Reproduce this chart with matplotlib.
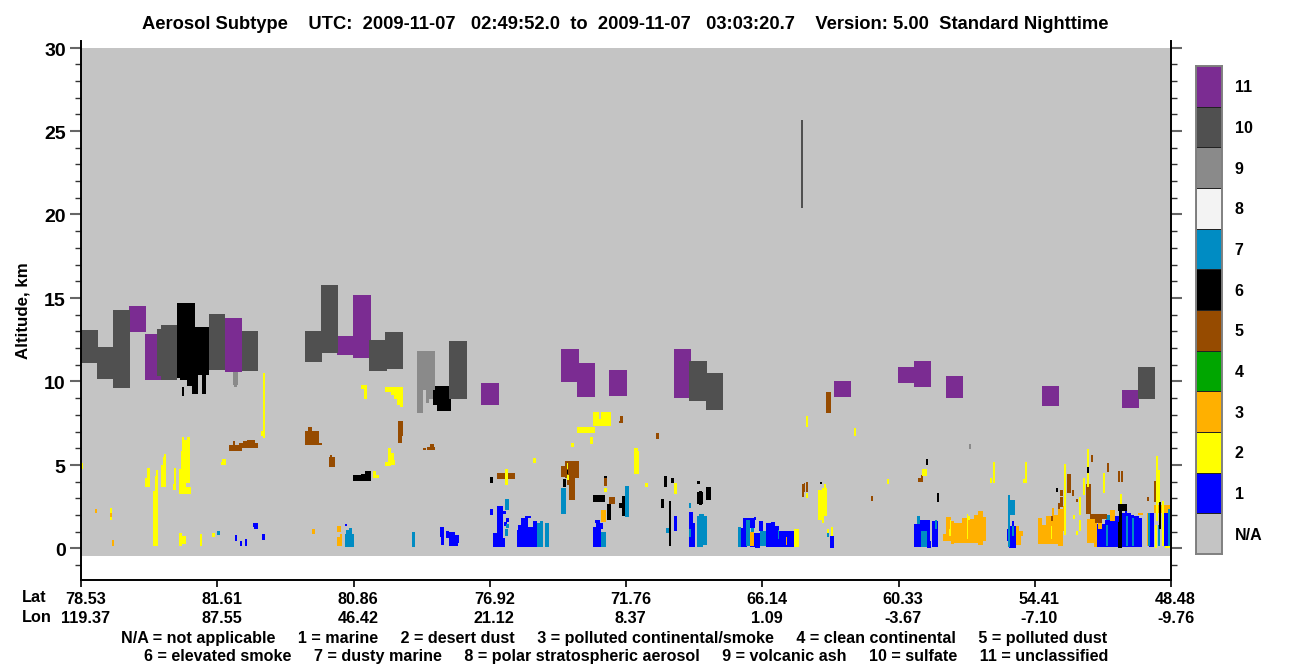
import numpy as np
import matplotlib
matplotlib.use("Agg")
import matplotlib.pyplot as plt
from matplotlib.colors import ListedColormap
from matplotlib.transforms import ScaledTranslation

plt.rcParams['font.family'] = ['Liberation Sans', 'DejaVu Sans']
plt.rcParams['font.weight'] = 'bold'

TITLE = "Aerosol Subtype    UTC:  2009-11-07   02:49:52.0  to  2009-11-07   03:03:20.7    Version: 5.00  Standard Nighttime"
LAT = ["78.53", "81.61", "80.86", "76.92", "71.76", "66.14", "60.33", "54.41", "48.48"]
LON = ["119.37", "87.55", "46.42", "21.12", "8.37", "1.09", "-3.67", "-7.10", "-9.76"]
LEGEND_1 = "N/A = not applicable     1 = marine     2 = desert dust     3 = polluted continental/smoke     4 = clean continental     5 = polluted dust"
LEGEND_2 = "6 = elevated smoke     7 = dusty marine     8 = polar stratospheric aerosol     9 = volcanic ash     10 = sulfate     11 = unclassified"
CLASS_LABELS = ["N/A", "1", "2", "3", "4", "5", "6", "7", "8", "9", "10", "11"]
CLASS_COLORS = ["#c4c4c4", "#0000ff", "#ffff00", "#ffb000", "#00a600", "#964b00",
                "#000000", "#008cc3", "#f3f3f3", "#8a8a8a", "#505050", "#7b2c92"]

# Each layer: (track start, track end, top altitude km, base altitude km)
marine = [
    (154,156,.78,.42),(159,161,.42,.12),(164,166,.54,.12),(172,177,1.5,1.26),(173,177,1.26,1.14),
    (181,184,.84,.48),(264,266,1.44,1.32),(359,363,1.26,.66),(360,363,.66,.18),(365,368,1.02,.6),
    (368,374,.96,.12),(374,378,.78,.3),(368,377,.3,.12),
    (409,412,2.34,1.98),(412,419,.9,.06),(416,422,2.52,.54),(422,425,2.22,2.04),(425,428,1.8,1.56),
    (423,426,1.56,1.32),(419,424,.6,.06),
    (436,456,1.08,.06),(437,440,1.38,1.08),(440,447,1.8,1.08),(444,450,1.92,1.8),(452,456,1.62,1.08),(447,456,1.26,1.08),
    (512,520,1.26,.06),(515,522,1.5,1.14),(514,519,1.68,1.5),
    (593,596,1.92,1.02),(608,614,1.5,.06),(608,612,2.16,1.5),
    (660,666,1.2,.06),(662,674,1.8,1.2),(673,675,1.86,1.7),(669,679,.9,.06),(674,679,.84,0),(678,682,1.62,1.02),
    (685,694,1.5,.06),(690,694,1.56,1.4),(694,698,1.32,.06),(697,713,1.02,.06),(749,753,.72,0),
    (833,839,1.44,.06),(839,849,1.68,.06),(846,850,.44,0),(851,857,1.62,.06),
    (926,929,1.14,.42),(928,935,1.34,0),(931,933,1.62,1.34),
    (1016,1025,1.44,.06),(1024,1037,1.68,.06),(1033,1038,1.92,.06),(1041,1050,2.14,.06),(1044,1046,2.4,2.1),
    (1050,1053,1.98,.06),(1053,1058,1.92,.06),(1058,1061,1.8,.06),(1068,1073,2.14,.06),(1082,1087,2.1,.14),
]
polluted_continental = [
    (14,16,2.34,2.1),(29,31,2.1,1.86),(31,33,.48,.12),(231,234,1.14,.84),(256,260,1.32,.96),(259,261,.84,.12),(256,259,.66,.12),
    (520,525,2.28,1.56),(669,673,.96,.12),(705,706,.66,.18),
    (862,865,.84,.42),(865,870,1.86,.42),(870,873,1.62,.24),(872,881,1.54,.34),(881,886,1.8,.3),(885,893,1.74,.3),
    (893,897,1.98,.3),(897,902,2.22,.2),(902,905,1.86,.42),
    (935,938,1.32,.18),(938,942,1.02,.72),(935,940,.72,.18),
    (957,961,1.8,.9),(957,965,.9,.24),(961,965,1.38,.24),(965,971,1.92,.24),(971,977,1.98,.24),(971,973,2.4,1.98),
    (977,982,2.34,.14),(982,985,2.52,1.04),
    (1006,1016,1.74,.3),(1013,1016,.3,.1),(1017,1021,1.74,1.14),(1029,1034,2.28,1.64),(1057,1062,2.1,1.98),
    (1066,1068,2.1,.14),(1073,1089,2.58,2.1),
]
dusty_marine = [
    (136,139,1.02,.78),(265,271,1.08,.84),(268,271,1.2,1.08),(264,273,.84,.06),(331,334,.96,.06),
    (424,428,2.94,2.28),(425,428,1.44,1.2),(424,427,1.14,.72),(456,462,1.5,.06),(459,462,1.62,1.5),(464,468,1.5,.06),
    (480,485,3.6,2.04),(520,525,.96,.06),(544,548,3.72,1.86),(585,588,1.2,.9),(608,610,2.7,2.4),(608,610,1.14,.66),
    (616,626,1.92,.18),(618,623,2.04,1.92),(616,622,.48,.06),(657,660,1.26,.06),(665,669,1.68,.12),(670,673,1.2,.96),
    (679,685,1.02,.12),(697,698,1.08,.54),(746,748,.96,.66),
    (836,839,1.92,1.44),(840,846,1.02,.06),(854,856,1.68,1.14),(927,934,2.88,1.98),(927,929,3.18,2.88),(927,929,1.98,.06),
    (931,933,1.34,.74),(1025,1029,1.98,1.68),(1025,1027,1.38,.14),(1045,1047,1.92,.14),(1051,1053,1.8,.14),
    (1087,1089,2.34,.14),(1067,1069,2.1,.14),(1077,1079,1.38,.14),
]
polluted_dust = [
    (148,161,6.18,5.82),(152,154,6.42,6.18),(158,177,6.3,6.0),(162,174,6.42,6.18),(166,174,6.48,6.3),
    (224,238,7.02,6.18),(227,231,7.26,7.02),(224,241,6.34,6.18),(248,254,5.46,4.86),(249,251,5.58,5.46),
    (317,322,7.62,6.72),(317,321,6.72,6.3),(342,345,6,5.88),(346,354,6.06,5.88),(349,353,6.24,6.06),
    (416,434,4.5,4.14),(484,498,5.22,4.2),(480,486,4.92,4.26),(486,494,4.2,3.78),(488,494,3.78,2.88),
    (523,526,4.2,3.72),(528,534,3.06,2.64),(539,542,7.92,7.5),(538,542,7.62,7.5),(575,578,6.9,6.54),
    (745,750,9.36,8.1),(721,723,3.84,3.06),(723,724,3.9,3.36),(725,727,3.96,3.36),
    (790,792,3.12,2.82),(837,842,4.2,3.96),(840,842,4.38,4.2),(986,990,4.44,3.3),(991,993,3.48,3.12),
    (979,982,3.48,3.12),(979,982,3.06,2.5),(977,979,2.7,2.34),(995,997,2.94,2.76),(1005,1010,3.84,2.04),
    (1010,1012,5.58,5.16),(1026,1028,5.1,4.56),(1037,1039,4.62,3.96),(1040,1042,4.62,3.96),(1066,1068,3.06,2.82),
    (1073,1075,4.02,2.76),(1076,1077,4.24,3.54),(1009,1026,2.04,1.74),(1014,1021,1.74,1.54),(970,972,1.92,1.62),
]
desert_dust = [
    (0,2,5.1,4.74),(29,31,2.4,2.1),(29,31,1.86,1.68),(64,69,4.2,3.66),(66,69,4.8,4.2),(72,77,3.42,.12),(74,77,4.34,3.42),
    (75,77,4.68,4.34),(80,85,4.98,3.66),(82,85,5.46,4.98),(83,85,5.64,5.46),(92,95,3.84,3.48),(93,95,4.8,3.84),
    (98,110,3.66,3.24),(98,105,4.74,3.66),(100,109,5.82,3.9),(101,109,6.48,5.82),(101,103,6.66,6.48),(106,109,6.66,6.48),
    (98,101,.9,.12),(101,105,.72,.24),(119,121,.84,.12),(131,134,.9,.66),(140,145,5.16,4.98),(141,145,5.34,5.16),
    (180,184,7.02,6.72),(182,184,10.5,6.6),(280,286,9.78,9.54),(283,286,9.54,8.94),(304,322,9.66,9.36),(310,322,9.36,9.2),
    (313,322,9.24,8.94),(316,322,8.94,8.58),(319,322,8.58,8.5),(307,310,6.0,5.7),(307,313,5.7,5.24),(307,314,5.28,4.98),
    (304,310,5.16,4.92),(292,295,4.62,4.2),(292,298,4.38,4.2),
    (512,530,7.74,7.32),(512,518,8.16,7.74),(520,530,8.16,7.74),(496,514,7.26,6.9),(509,512,6.66,6.24),(490,493,6.3,6.06),
    (553,558,5.82,4.44),(553,557,6,5.82),(452,455,5.4,5.1),(424,427,4.74,3.78),(486,487,5.1,4.74),(486,488,4.38,4.08),
    (523,526,3.6,3.36),(564,567,3.9,3.66),(593,596,3.9,3.24),(725,727,7.92,7.26),(725,727,3.3,3),
    (737,741,3.48,1.68),(741,746,3.6,1.92),(743,745,3.84,3.6),(741,743,1.92,1.5),(750,752,1.26,.72),(746,748,1.14,.9),
    (713,718,1.14,.06),
    (773,775,7.2,6.72),(841,846,4.74,4.32),(806,808,4.14,3.84),(909,911,4.2,3.9),(912,914,5.16,3.9),(942,946,4.14,3.9),
    (944,946,5.16,4.14),(983,985,5.04,.78),(992,994,1.98,1.74),(995,997,1.02,.78),(998,1000,3.06,1.98),(998,1000,1.68,1.02),
    (1002,1004,4.2,3.18),(1006,1008,5.94,3.66),(1022,1024,4.5,3.3),(1039,1041,3.24,2.46),(1075,1077,5.52,1.62),
    (1077,1079,4.68,2.7),(1081,1083,2.82,.14),(1074,1076,1.38,.04),(1084,1089,.14,0),(869,870,1.68,.74),(886,887,2.04,.54),
    (887,889,1.92,1.68),(868,870,1.14,.72),(970,971,1.34,.54),
]
elevated_smoke = [
    (96,114,14.7,10.2),(114,128,13.26,10.38),(99,106,10.4,10.1),(106,117,10.4,9.74),(111,117,9.74,9.24),(121,125,10.38,9.24),
    (101,103,9.66,9.12),(272,280,4.38,4.02),(280,284,4.44,4.02),(284,290,4.62,4.02),(352,368,9.72,8.58),(356,370,8.94,8.22),
    (409,412,4.26,3.9),(482,485,4.14,3.66),(486,487,4.68,4.44),(523,526,4.32,4.2),(512,524,3.18,2.76),(526,530,2.64,1.68),
    (541,544,3.12,1.92),(538,541,2.7,2.4),(580,583,2.94,2.4),(583,586,4.32,3.66),(588,590,2.82,.12),(590,593,4.2,3.9),
    (616,619,4.02,3.84),(616,622,3.36,2.64),(618,621,3.42,2.58),(625,630,3.66,2.88),(739,741,3.96,3.84),
    (845,847,5.34,4.98),(856,858,3.3,2.76),(975,977,3.6,3.36),(1006,1008,4.86,4.5),(1037,1041,1.56,0),(1037,1046,2.64,2.22),
    (1038,1041,2.22,1.56),(1078,1080,2.76,1.14),
]
volcanic_ash = [
    (336,354,11.82,9.48),(336,342,9.48,8.1),(345,352,9.48,8.94),(345,348,8.94,8.7),(152,157,10.56,9.78),(153,156,9.78,9.66),
    (888,890,6.24,5.94),
]
unclassified = [
    (48,65,14.52,12.96),(64,81,12.84,10.08),(144,161,13.8,10.56),(256,273,12.72,11.58),(272,290,15.18,11.4),
    (400,418,9.9,8.58),(480,498,11.94,9.96),(496,514,11.1,9.06),(528,546,10.68,9.12),(593,610,11.94,9.0),
    (753,770,10.02,9.06),(817,834,10.86,9.9),(833,850,11.22,9.66),(865,882,10.32,9.0),(961,978,9.72,8.52),(1041,1058,9.48,8.4),
]
sulfate = [
    (0,17,13.1,11.1),(16,33,12.06,10.14),(32,49,14.28,9.6),(76,80,13.14,10.3),(80,96,13.38,10.08),(128,144,14.04,10.68),
    (161,177,13.02,10.62),(224,241,13.02,11.16),(240,257,15.78,11.7),(288,306,12.48,10.62),(304,322,12.96,10.74),
    (368,386,12.42,8.94),(608,626,11.22,8.82),(625,642,10.5,8.28),(1057,1074,10.86,8.94),(720,722,25.66,20.38),
]
LAYERS = [(unclassified, 11), (marine, 1), (polluted_continental, 3), (dusty_marine, 7), (polluted_dust, 5),
          (desert_dust, 2), (elevated_smoke, 6), (volcanic_ash, 9), (sulfate, 10)]

W, H = 1300, 667
fig = plt.figure(figsize=(W / 100, H / 100), dpi=100, facecolor='white')
px = lambda x: x / W
py = lambda y: 1 - y / H

ax = fig.add_axes([px(81), py(580), px(1171) - px(81), py(41) - py(580)])
ax.set_xlim(0, 1090)
ax.set_ylim(-1.89, 30.39)
ax.bar(0, 30.45, bottom=-0.45, width=1090, align='edge', color=CLASS_COLORS[0], linewidth=0, zorder=1)
for layer, cls in LAYERS:
    arr = np.array(layer, dtype=float)
    ax.bar(arr[:, 0], arr[:, 2] - arr[:, 3], bottom=arr[:, 3], width=arr[:, 1] - arr[:, 0], align='edge',
           color=CLASS_COLORS[cls], linewidth=0, antialiased=False, zorder=2)

for s in ['top']:
    ax.spines[s].set_visible(False)
for s in ['left', 'right', 'bottom']:
    ax.spines[s].set_linewidth(1.4)
    ax.spines[s].set_zorder(5)

ax.set_yticks(np.arange(0, 31, 5))
ax.set_yticks(np.arange(-1, 31, 1), minor=True)
ax.tick_params(axis='y', which='major', left=True, right=True, length=8, width=1.5, color='#666666', labelsize=14, pad=3)
ax.tick_params(axis='y', which='minor', left=True, right=True, length=4, width=1, color='#333333')
down = ScaledTranslation(0, -1.5 / 100, fig.dpi_scale_trans)
for lab in ax.get_yticklabels():
    lab.set_transform(lab.get_transform() + down)
ax.set_xticks(np.linspace(0, 1090, 9))
ax.set_xticklabels([f"{a}\n{b}" for a, b in zip(LAT, LON)], fontsize=11.7, linespacing=1.3)
ax.tick_params(axis='x', which='major', length=5, width=1.2, color='black', pad=4)
shift = ScaledTranslation(4.5 / 100, 0, fig.dpi_scale_trans)
for lab in ax.get_xticklabels():
    lab.set_transform(lab.get_transform() + shift)
ax.set_ylabel("Altitude, km", fontsize=12.2, fontweight='bold')
ax.yaxis.set_label_coords((31 - 81) / (1171 - 81), 0.5)

fig.text(px(625.5), py(24.5), TITLE, ha='center', va='center', fontsize=13.2)
fig.text(px(22), py(598), "Lat", ha='left', va='center', fontsize=11.7)
fig.text(px(22), py(618), "Lon", ha='left', va='center', fontsize=11.7)
fig.text(px(614.5), py(639), LEGEND_1, ha='center', va='center', fontsize=11.6)
fig.text(px(626), py(657), LEGEND_2, ha='center', va='center', fontsize=11.6)

# colour key
cax = fig.add_axes([px(1196), py(554), px(1222) - px(1196), py(66) - py(554)])
cmap = ListedColormap(CLASS_COLORS)
edges = np.arange(len(CLASS_COLORS) + 1)
cax.pcolormesh([0, 1], edges, np.arange(len(CLASS_COLORS)).reshape(-1, 1), cmap=cmap,
               vmin=-0.5, vmax=len(CLASS_COLORS) - 0.5, edgecolors='#222222', linewidth=0.6)
cax.set_xticks([])
cax.set_yticks(np.arange(len(CLASS_COLORS)) + 0.5)
cax.set_yticklabels(CLASS_LABELS, fontsize=11.5)
cax.yaxis.tick_right()
cax.tick_params(axis='y', length=0, pad=9)
for lab in cax.get_yticklabels():
    lab.set_ha('left')
for s in cax.spines.values():
    s.set_color('#808080')
    s.set_linewidth(1.4)

fig.savefig("out.png", dpi=100, facecolor='white')
